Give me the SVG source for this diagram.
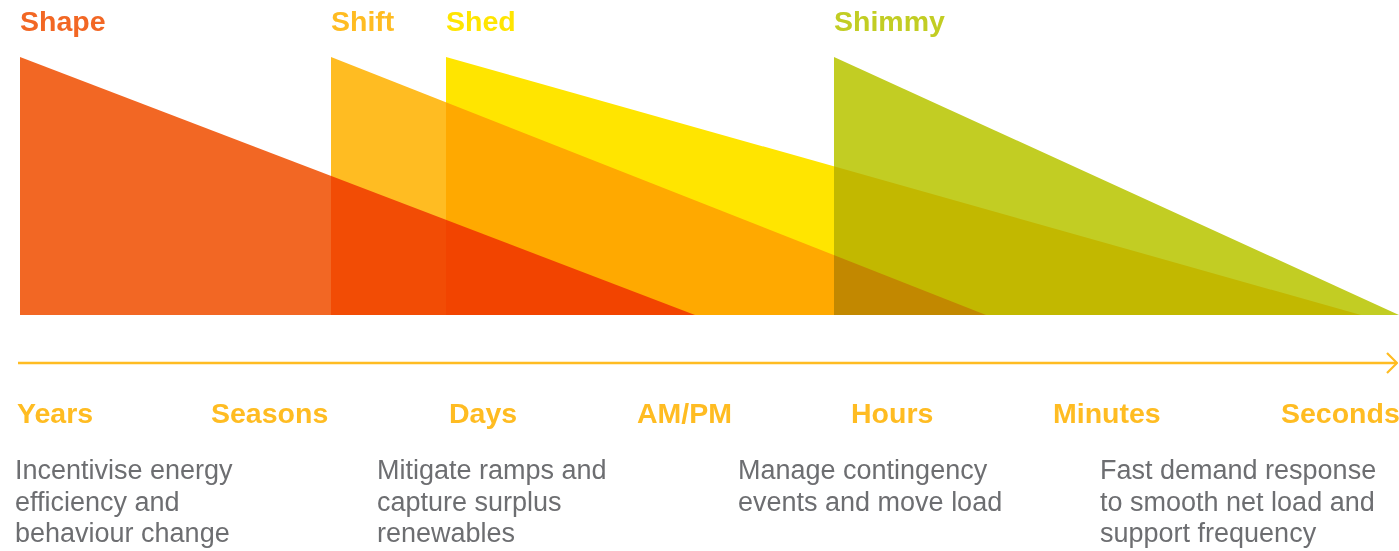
<svg xmlns="http://www.w3.org/2000/svg" width="1399" height="551" viewBox="0 0 1399 551">
  <style>
    .tri { mix-blend-mode: multiply; }
    .title { font-family: "Liberation Sans", Arial, sans-serif; font-weight: bold; font-size: 28.5px; }
    .time { font-family: "Liberation Sans", Arial, sans-serif; font-weight: bold; font-size: 28.5px; fill: #FFBC22; }
    .desc { font-family: "Liberation Sans", Arial, sans-serif; font-size: 27px; fill: #6D6E71; }
  </style>
  <defs>
    <marker id="chev" viewBox="0 0 12 22" refX="11" refY="11" markerWidth="12" markerHeight="22" markerUnits="userSpaceOnUse" orient="auto">
      <path d="M1,1 L11,11 L1,21" fill="none" stroke="#FFBC22" stroke-width="2.2"/>
    </marker>
  </defs>
  <rect width="1399" height="551" fill="#ffffff"/>
  <g id="shape">
    <polygon class="tri" points="20,57 20,315 695,315" fill="#F26724"/>
    <text class="title" x="20" y="31" fill="#F26724">Shape</text>
  </g>
  <g id="shift">
    <polygon class="tri" points="331,57 331,315 986,315" fill="#FFBC22"/>
    <text class="title" x="331" y="31" fill="#FFBC22">Shift</text>
  </g>
  <g id="shed">
    <polygon class="tri" points="446,57 446,315 1361,315" fill="#FFE500"/>
    <text class="title" x="446" y="31" fill="#FFE500">Shed</text>
  </g>
  <g id="shimmy">
    <polygon class="tri" points="834,57 834,315 1399,315" fill="#C2CD23"/>
    <text class="title" x="834" y="31" fill="#C2CD23">Shimmy</text>
  </g>
  <g id="connectors">
    <line x1="18" y1="363" x2="1397" y2="363" stroke="#FFBC22" stroke-width="2.5" marker-end="url(#chev)"/>
  </g>
  <g id="timescale">
    <text class="time" x="17" y="423">Years</text>
    <text class="time" x="211" y="423">Seasons</text>
    <text class="time" x="449" y="423">Days</text>
    <text class="time" x="637" y="423">AM/PM</text>
    <text class="time" x="851" y="423">Hours</text>
    <text class="time" x="1053" y="423">Minutes</text>
    <text class="time" x="1281" y="423">Seconds</text>
  </g>
  <g id="desc-shape">
    <text class="desc" x="15" y="479">Incentivise energy</text>
    <text class="desc" x="15" y="511">efficiency and</text>
    <text class="desc" x="15" y="542">behaviour change</text>
  </g>
  <g id="desc-shift">
    <text class="desc" x="377" y="479">Mitigate ramps and</text>
    <text class="desc" x="377" y="511">capture surplus</text>
    <text class="desc" x="377" y="542">renewables</text>
  </g>
  <g id="desc-shed">
    <text class="desc" x="738" y="479">Manage contingency</text>
    <text class="desc" x="738" y="511">events and move load</text>
  </g>
  <g id="desc-shimmy">
    <text class="desc" x="1100" y="479">Fast demand response</text>
    <text class="desc" x="1100" y="511">to smooth net load and</text>
    <text class="desc" x="1100" y="542">support frequency</text>
  </g>
</svg>
